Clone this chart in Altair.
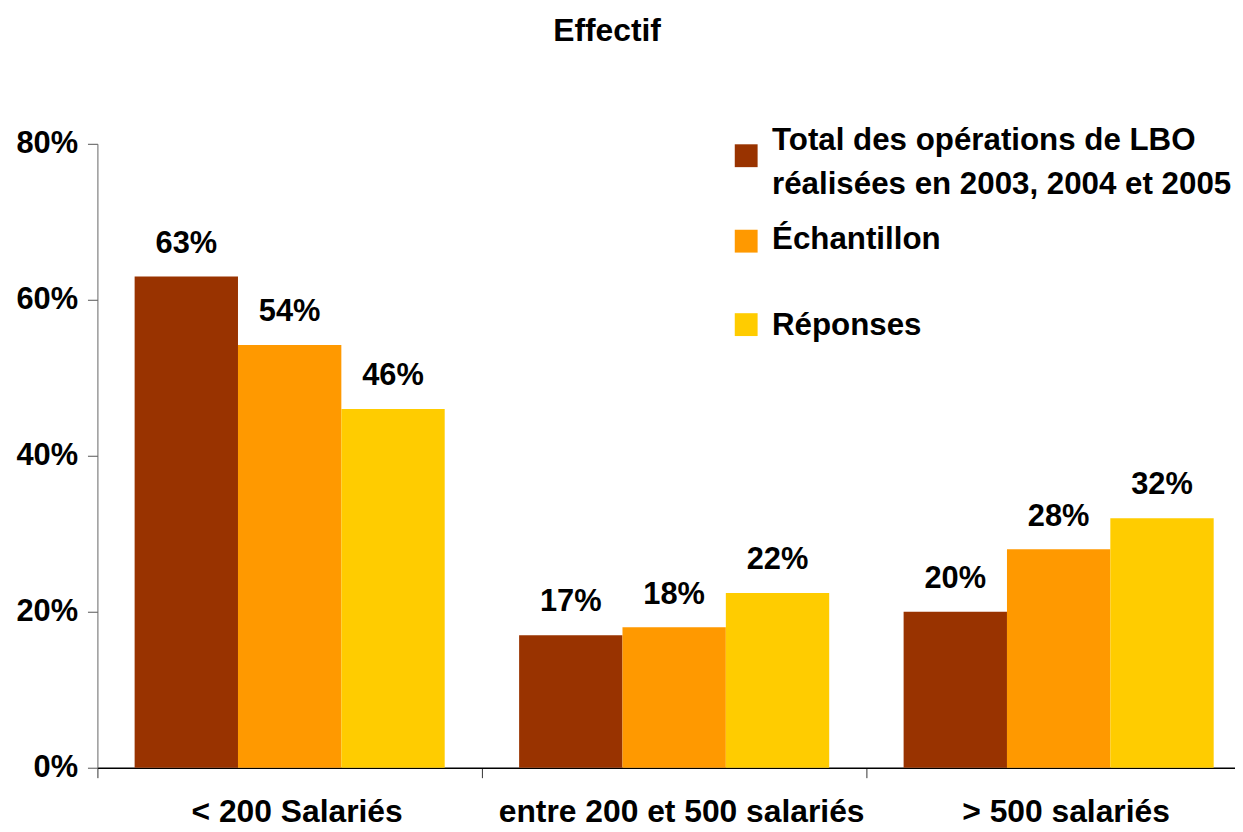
import altair as alt
import pandas as pd

categories = ["< 200 Salariés", "entre 200 et 500 salariés", "> 500 salariés"]
series = ["Total des opérations de LBO réalisées en 2003, 2004 et 2005", "Échantillon", "Réponses"]
total_lbo = [63, 17, 20]
echantillon = [54.2, 18, 28]
reponses = [46, 22.4, 32]
colors = ["#993300", "#FF9900", "#FFCC00"]
legend_lines = [["Total des opérations de LBO", "réalisées en 2003, 2004 et 2005"], ["Échantillon"], ["Réponses"]]
y_ticks = [0, 20, 40, 60, 80]
title_text = "Effectif"

FONT = "Liberation Sans"

rows = []
for s, vals in zip(series, [total_lbo, echantillon, reponses]):
    for c, v in zip(categories, vals):
        rows.append({"cat": c, "series": s, "value": v, "label": f"{round(v)}%"})
df = pd.DataFrame(rows)

W, H = 1145, 628

x_enc = alt.X("cat:N", sort=categories, title=None,
              scale=alt.Scale(paddingInner=0, paddingOuter=0, range=[0, 1161]),
              axis=alt.Axis(labelAngle=0, labelFont=FONT, labelFontSize=32, labelFontWeight="bold",
                            labelColor="black", labelPadding=19, labelLimit=600, labelOffset=7,
                            domainColor="black", domainWidth=1.5, tickColor="#333333", tickSize=10,
                            tickBand="extent", grid=False))
xoff_enc = alt.XOffset("series:N", sort=series, scale=alt.Scale(paddingOuter=0.36, paddingInner=0))
y_enc = alt.Y("value:Q", title=None,
              scale=alt.Scale(domain=[0, 80], nice=False),
              axis=alt.Axis(values=y_ticks, labelExpr="datum.value + '%'", labelFont=FONT,
                            labelFontSize=31, labelFontWeight="bold", labelColor="black",
                            labelPadding=10, tickSize=10, tickColor="#555555",
                            domainColor="#666666", grid=False))
color_enc = alt.Color("series:N", sort=series, scale=alt.Scale(domain=series, range=colors), legend=None)

base = alt.Chart(df)
bars = base.mark_bar().encode(x=x_enc, xOffset=xoff_enc, y=y_enc, color=color_enc)
labels = base.mark_text(font=FONT, fontSize=31, fontWeight="bold", color="black",
                        baseline="alphabetic", dy=-24).encode(
    x=alt.X("cat:N", sort=categories), xOffset=alt.XOffset("series:N", sort=series),
    y="value:Q", text="label:N")

layers = [bars, labels]

# title
layers.append(alt.Chart(pd.DataFrame({"t": [title_text]})).mark_text(
    font=FONT, fontSize=32, fontWeight="bold", color="black", align="center", baseline="alphabetic"
).encode(x=alt.value(513), y=alt.value(-103), text="t:N"))

# legend
sq_y = [12, 98, 182]
tx_y = [6, 106, 192]
for i in range(3):
    layers.append(alt.Chart(pd.DataFrame({"s": [series[i]]})).mark_square(
        size=529, color=colors[i], opacity=1, filled=True
    ).encode(x=alt.value(653), y=alt.value(sq_y[i])))
    layers.append(alt.Chart(pd.DataFrame({"s": [series[i]]})).mark_text(
        font=FONT, fontSize=31.5, fontWeight="bold", color="black", align="left",
        baseline="alphabetic", lineHeight=45, text=legend_lines[i]
    ).encode(x=alt.value(679), y=alt.value(tx_y[i])))

chart = alt.layer(*layers).properties(
    width=W, height=H,
    autosize=alt.AutoSizeParams(type="none"),
    padding={"left": 90, "top": 134, "right": 0, "bottom": 62},
    background="white",
).configure_view(stroke=None)

chart.save("out.html", embed_options={"renderer": "svg", "actions": False})
